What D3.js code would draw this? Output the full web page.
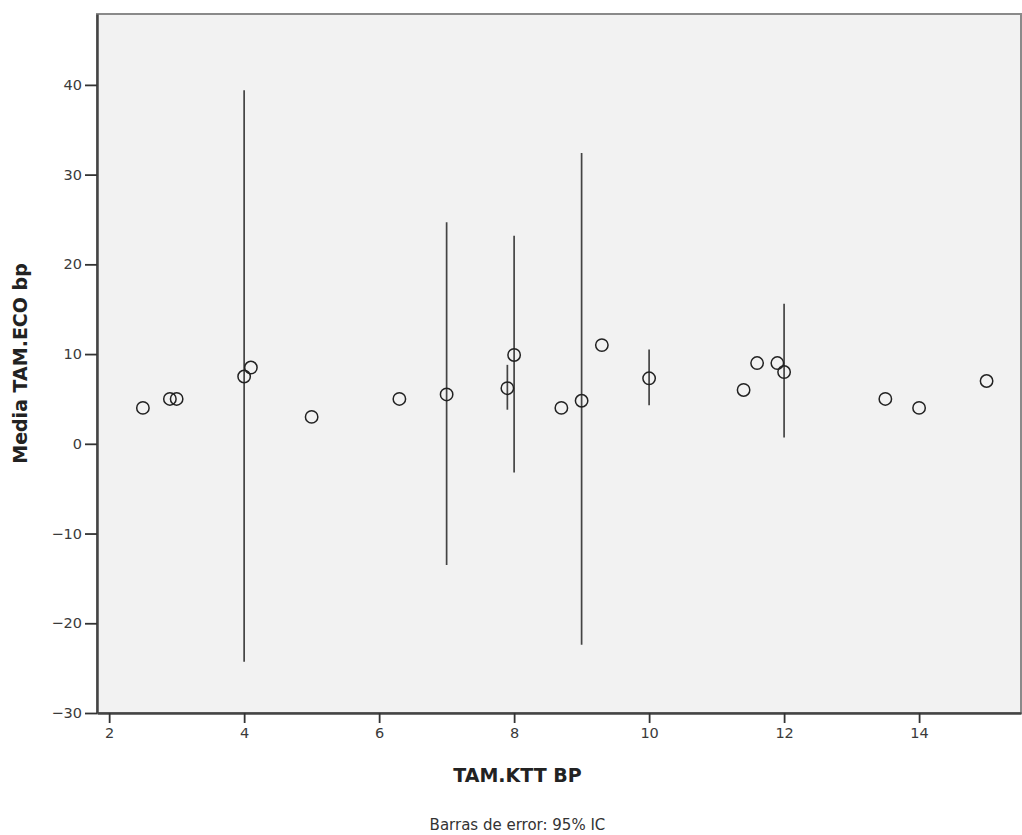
<!DOCTYPE html>
<html>
<head>
<meta charset="utf-8">
<script src="https://cdn.jsdelivr.net/npm/d3@7"></script>
<style>
  body { margin: 0; background: #fff; }
  text { font-family: "DejaVu Sans", sans-serif; fill: #222; }
</style>
</head>
<body>
<div id="chart"></div>
<script>
// Data: mean TAM.ECO bp by TAM.KTT BP, with 95% CI where available
var ktt   = [2.5, 2.9, 3.0, 4.0, 4.1, 5.0, 6.3, 7.0, 7.9, 8.0, 8.7, 9.0, 9.3, 10.0, 11.4, 11.6, 11.9, 12.0, 13.5, 14.0, 15.0];
var eco   = [4.0, 5.0, 5.0, 7.5, 8.5, 3.0, 5.0, 5.5, 6.2, 9.9, 4.0, 4.8, 11.0, 7.3, 6.0, 9.0, 9.0, 8.0, 5.0, 4.0, 7.0];
var ciLow = [null, null, null, -24.3, null, null, null, -13.5, 3.8, -3.2, null, -22.4, null, 4.3, null, null, null, 0.7, null, null, null];
var ciHigh = [null, null, null, 39.4, null, null, null, 24.7, 8.8, 23.2, null, 32.4, null, 10.5, null, null, null, 15.6, null, null, null];
var xTicks = [2, 4, 6, 8, 10, 12, 14];
var yTicks = [-30, -20, -10, 0, 10, 20, 30, 40];

var margin = { top: 14, right: 1, bottom: 122, left: 97 },
    width = 1022 - margin.left - margin.right,
    height = 835 - margin.top - margin.bottom;

var x = d3.scaleLinear().domain([1.82, 15.51]).range([0, width]);
var y = d3.scaleLinear().domain([-30, 47.9]).range([height, 0]);

var svg = d3.select("#chart")
    .append("svg")
    .attr("width", 1022)
    .attr("height", 835);

var g = svg.append("g")
    .attr("transform", "translate(" + margin.left + "," + margin.top + ")");

// plot background
g.append("rect")
    .attr("width", width)
    .attr("height", height)
    .attr("fill", "#f2f2f2")
    .attr("stroke", "#8a8a8a")
    .attr("stroke-width", 2);

// error bars
var rows = ktt.map(function (d, i) {
    return { X: d, Y: eco[i], lo: ciLow[i], hi: ciHigh[i] };
});

g.selectAll(".err")
    .data(rows.filter(function (d) { return d.lo !== null; }))
    .enter().append("line")
    .attr("class", "err")
    .attr("x1", function (d) { return x(d.X); })
    .attr("x2", function (d) { return x(d.X); })
    .attr("y1", function (d) { return y(d.lo); })
    .attr("y2", function (d) { return y(d.hi); })
    .attr("stroke", "#444")
    .attr("stroke-width", 1.7);

// means
g.selectAll(".dot")
    .data(rows)
    .enter().append("circle")
    .attr("class", "dot")
    .attr("r", 6.2)
    .attr("cx", function (d) { return x(d.X); })
    .attr("cy", function (d) { return y(d.Y); })
    .attr("fill", "none")
    .attr("stroke", "#222")
    .attr("stroke-width", 1.5);

// axes
var xAxis = g.append("g")
    .attr("transform", "translate(0," + height + ")")
    .call(d3.axisBottom(x).tickValues(xTicks).tickSize(10).tickPadding(5).tickSizeOuter(0));
var yAxis = g.append("g")
    .call(d3.axisLeft(y).tickValues(yTicks).tickSize(12).tickPadding(3).tickSizeOuter(0));

[xAxis, yAxis].forEach(function (a) {
    a.select(".domain").attr("stroke", "#444").attr("stroke-width", 2.5);
    a.selectAll(".tick line").attr("stroke", "#333").attr("stroke-width", 1.8);
    a.selectAll(".tick text").style("font-size", "14.5px").style("font-family", "DejaVu Sans, sans-serif").style("fill", "#3a3a3a");
});

// titles
svg.append("text")
    .attr("x", margin.left + x(8.05))
    .attr("y", 782)
    .attr("text-anchor", "middle")
    .style("font-size", "19px")
    .attr("font-weight", "bold")
    .text("TAM.KTT BP");

svg.append("text")
    .attr("transform", "translate(27," + (margin.top + height / 2) + ") rotate(-90)")
    .attr("text-anchor", "middle")
    .style("font-size", "19px")
    .attr("font-weight", "bold")
    .text("Media TAM.ECO bp");

svg.append("text")
    .attr("x", margin.left + x(8.05))
    .attr("y", 830)
    .attr("text-anchor", "middle")
    .style("font-size", "15px")
    .style("fill", "#333")
    .text("Barras de error: 95% IC");
</script>
</body>
</html>
